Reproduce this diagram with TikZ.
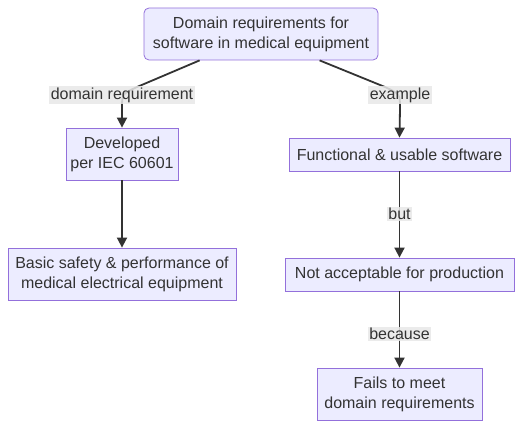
\documentclass[tikz,border=0pt]{standalone}
\usepackage{fontspec}
\setmainfont{Liberation Sans}
\usetikzlibrary{arrows.meta,calc}
\definecolor{nodefill}{HTML}{ECECFF}
\definecolor{nodeline}{HTML}{9370DB}
\definecolor{edge}{HTML}{333333}
\definecolor{txt}{HTML}{333333}
\definecolor{lblbg}{HTML}{E8E8E8}
\begin{document}
\begin{tikzpicture}[x=1pt,y=-1pt,
  box/.style={draw=nodeline,fill=nodefill,line width=0.8pt,text=txt,align=center,
    font=\fontsize{16}{20}\selectfont,inner sep=0pt},
  lbl/.style={fill=lblbg,fill opacity=0.85,text opacity=1,text=txt,inner sep=1.5pt,
    font=\fontsize{16}{19}\selectfont},
  conn/.style={draw=edge,line width=1.8pt,-{Triangle[length=10pt,width=10pt]}}]
\useasboundingbox (0,0) rectangle (530,435);
\node[box,rounded corners=5pt,minimum width=234pt,minimum height=52pt] (top) at (261,34) {Domain requirements for\\software in medical equipment};
\node[box,minimum width=112pt,minimum height=52pt] (dev) at (122,154) {Developed\\per IEC 60601};
\node[box,minimum width=228pt,minimum height=52pt] (basic) at (122,274) {Basic safety \& performance of\\medical electrical equipment};
\node[box,minimum width=221pt,minimum height=33pt] (func) at (399.5,154.5) {Functional \& usable software};
\node[box,minimum width=229pt,minimum height=33pt] (nap) at (399.5,274.5) {Not acceptable for production};
\node[box,minimum width=165pt,minimum height=52pt] (fail) at (399.5,394) {Fails to meet\\domain requirements};
\coordinate (tl) at ($(top.south west)+(56,0)$);
\coordinate (tr) at ($(top.south west)+(176,0)$);
\draw[conn] (tl) -- (137,87) .. controls (122,94) .. (122,108) -- (dev.north);
\draw[conn] (tr) -- (385,87) .. controls (400,94) .. (400,108) -- (func.north);
\draw[conn] (dev.south) -- (basic.north);
\draw[conn] (func.south) -- (nap.north);
\draw[conn] (nap.south) -- (fail.north);
\node[lbl] (l1) at (122,95) {domain requirement};
\node[lbl] (l2) at (400,95) {example};
\node[lbl] (l3) at (399.5,214) {but};
\node[lbl] (l4) at (399.5,334) {because};
\end{tikzpicture}
\end{document}
